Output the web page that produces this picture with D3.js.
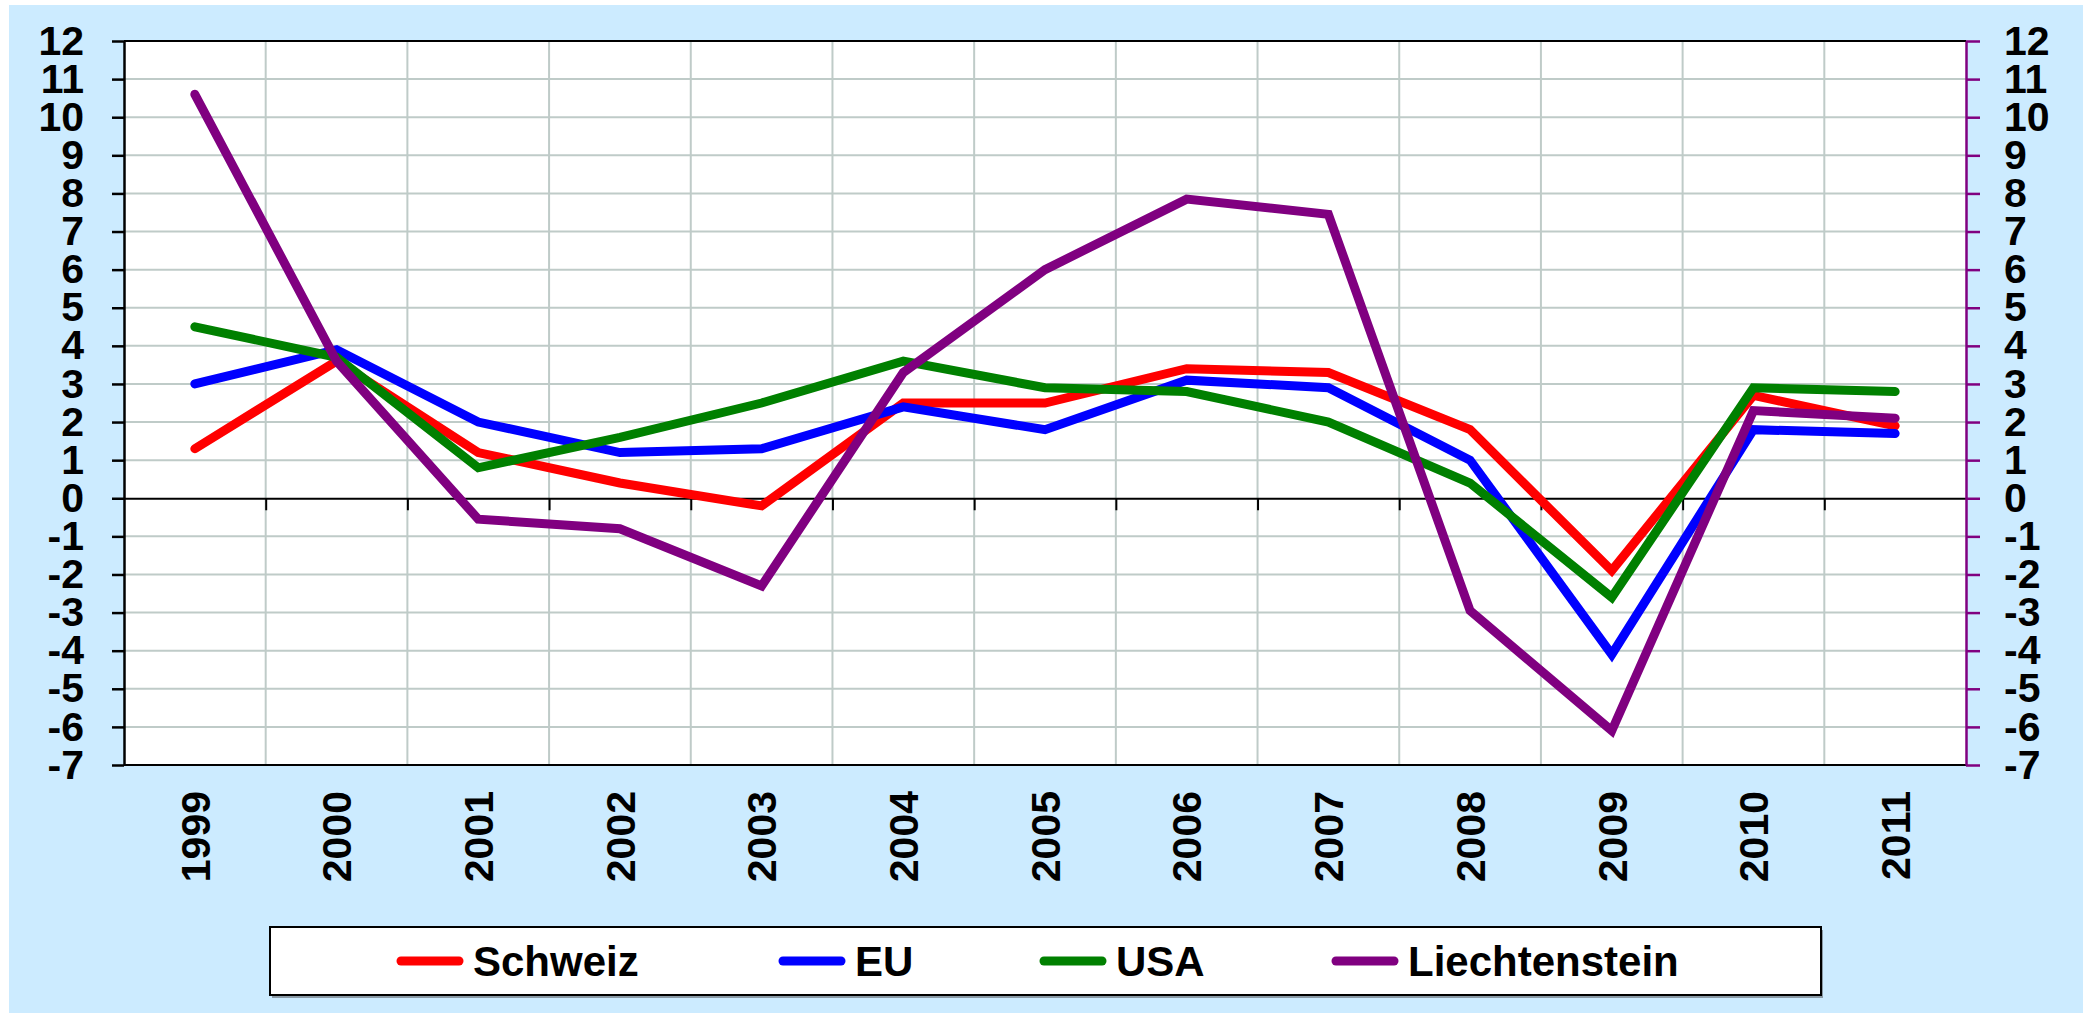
<!DOCTYPE html>
<html>
<head>
<meta charset="utf-8">
<script src="https://cdn.jsdelivr.net/npm/d3@7.9.0/dist/d3.min.js"></script>
<style>
  html, body { margin: 0; padding: 0; background: #fff; }
  svg { display: block; }
  text { font-family: "Liberation Sans", Arial, sans-serif; font-weight: bold; fill: #000; }
</style>
</head>
<body>
<div id="chart"></div>
<script>
// values (growth in %)
const years = ['1999', '2000', '2001', '2002', '2003', '2004', '2005', '2006', '2007', '2008', '2009', '2010', '2011'];
const schweiz = [1.3, 3.6, 1.2, 0.4, -0.2, 2.5, 2.5, 3.4, 3.3, 1.8, -1.9, 2.7, 1.9];
const eu = [3.0, 3.9, 2.0, 1.2, 1.3, 2.4, 1.8, 3.1, 2.9, 1.0, -4.1, 1.8, 1.7];
const usa = [4.5, 3.7, 0.8, 1.6, 2.5, 3.6, 2.9, 2.8, 2.0, 0.4, -2.6, 2.9, 2.8];
const liechtenstein = [10.6, 3.6, -0.55, -0.8, -2.3, 3.3, 6.0, 7.85, 7.45, -2.95, -6.1, 2.3, 2.1];
const yTicks = d3.range(-7, 13);

const series = [
  { name: 'Schweiz', values: schweiz, color: '#ff0000' },
  { name: 'EU', values: eu, color: '#0000ff' },
  { name: 'USA', values: usa, color: '#008000' },
  { name: 'Liechtenstein', values: liechtenstein, color: '#800080' },
];

const width = 2083;
const height = 1013;
const plot = { left: 124, right: 1966, top: 41, bottom: 765 };

const svg = d3.select('#chart')
  .append('svg')
  .attr('width', width)
  .attr('height', height);

// background
svg.append('rect')
  .attr('x', 9).attr('y', 5)
  .attr('width', width - 9).attr('height', height - 5)
  .attr('fill', '#ccebff');

svg.append('rect')
  .attr('x', plot.left).attr('y', plot.top)
  .attr('width', plot.right - plot.left).attr('height', plot.bottom - plot.top)
  .attr('fill', '#fff');

const xScale = d3.scaleBand()
  .domain(years)
  .range([plot.left, plot.right])
  .padding(0);

const yScale = d3.scaleLinear()
  .domain([-7, 12])
  .range([plot.bottom, plot.top]);

// gridlines
const grid = svg.append('g').attr('class', 'grid');
grid.selectAll('line.h')
  .data(yTicks.filter(d => d > -7 && d < 12 && d !== 0))
  .join('line')
  .attr('class', 'h')
  .attr('x1', plot.left).attr('x2', plot.right)
  .attr('y1', d => yScale(d)).attr('y2', d => yScale(d))
  .attr('stroke', '#bfcbc8').attr('stroke-width', 2);

grid.selectAll('line.v')
  .data(years.slice(1))
  .join('line')
  .attr('class', 'v')
  .attr('x1', d => xScale(d)).attr('x2', d => xScale(d))
  .attr('y1', plot.top).attr('y2', plot.bottom)
  .attr('stroke', '#bfcbc8').attr('stroke-width', 2);

// top and bottom border
svg.append('line')
  .attr('x1', plot.left).attr('x2', plot.right)
  .attr('y1', plot.top).attr('y2', plot.top)
  .attr('stroke', '#000').attr('stroke-width', 2);
svg.append('line')
  .attr('x1', plot.left).attr('x2', plot.right)
  .attr('y1', plot.bottom).attr('y2', plot.bottom)
  .attr('stroke', '#000').attr('stroke-width', 2);

// zero axis with ticks at category boundaries
const xAxis = d3.axisBottom(d3.scaleLinear().domain([0, years.length]).range([plot.left, plot.right]))
  .tickValues(d3.range(1, years.length))
  .tickSize(12)
  .tickSizeOuter(0)
  .tickFormat('');
svg.append('g')
  .attr('class', 'x-axis')
  .attr('transform', `translate(0, ${yScale(0)})`)
  .call(xAxis)
  .call(g => g.selectAll('line, path').attr('stroke', '#000').attr('stroke-width', 2));

// year labels
svg.append('g')
  .selectAll('text')
  .data(years)
  .join('text')
  .attr('transform', d => `translate(${xScale(d) + xScale.bandwidth() / 2}, ${plot.bottom + 26}) rotate(-90)`)
  .attr('text-anchor', 'end')
  .attr('dy', '0.36em')
  .style('font-size', '41px')
  .text(d => d);

const fmt = d => String(d); // plain hyphen for negatives, as in the original

// left axis
const yAxisLeft = d3.axisLeft(yScale)
  .tickValues(yTicks)
  .tickSize(12)
  .tickSizeOuter(0)
  .tickPadding(28)
  .tickFormat(fmt);
svg.append('g')
  .attr('class', 'y-axis')
  .attr('transform', `translate(${plot.left}, 0)`)
  .call(yAxisLeft)
  .call(g => g.selectAll('line, path').attr('stroke', '#000').attr('stroke-width', 2.5))
  .call(g => g.selectAll('text').style('font-size', '41px').style('font-family', '"Liberation Sans", Arial, sans-serif').attr('fill', '#000'));

// right axis (purple)
const yAxisRight = d3.axisRight(yScale)
  .tickValues(yTicks)
  .tickSize(14)
  .tickSizeOuter(0)
  .tickPadding(24)
  .tickFormat(fmt);
svg.append('g')
  .attr('class', 'y-axis-right')
  .attr('transform', `translate(${plot.right}, 0)`)
  .call(yAxisRight)
  .call(g => g.selectAll('line, path').attr('stroke', '#800080').attr('stroke-width', 2.5))
  .call(g => g.selectAll('text').style('font-size', '41px').style('font-family', '"Liberation Sans", Arial, sans-serif').attr('fill', '#000'));

// lines
const line = d3.line()
  .x((d, i) => xScale(years[i]) + xScale.bandwidth() / 2)
  .y(d => yScale(d));

svg.append('g')
  .attr('class', 'lines')
  .selectAll('path')
  .data(series)
  .join('path')
  .attr('d', d => line(d.values))
  .attr('fill', 'none')
  .attr('stroke', d => d.color)
  .attr('stroke-width', 9)
  .attr('stroke-linecap', 'round')
  .attr('stroke-linejoin', 'miter');

// legend
const legend = svg.append('g').attr('class', 'legend');
legend.append('rect')
  .attr('x', 272).attr('y', 930)
  .attr('width', 1551).attr('height', 68)
  .attr('fill', '#8a9aa6');
legend.append('rect')
  .attr('x', 270).attr('y', 927)
  .attr('width', 1551).attr('height', 68)
  .attr('fill', '#fff')
  .attr('stroke', '#000')
  .attr('stroke-width', 2);

const legendX = [401, 783, 1044, 1336];
const items = legend.selectAll('g.item')
  .data(series)
  .join('g')
  .attr('class', 'item')
  .attr('transform', (d, i) => `translate(${legendX[i]}, 961)`);
items.append('line')
  .attr('x1', 0).attr('x2', 58)
  .attr('stroke', d => d.color)
  .attr('stroke-width', 9)
  .attr('stroke-linecap', 'round');
items.append('text')
  .attr('x', 72)
  .attr('dy', '0.36em')
  .style('font-size', '42px')
  .text(d => d.name);
</script>
</body>
</html>
